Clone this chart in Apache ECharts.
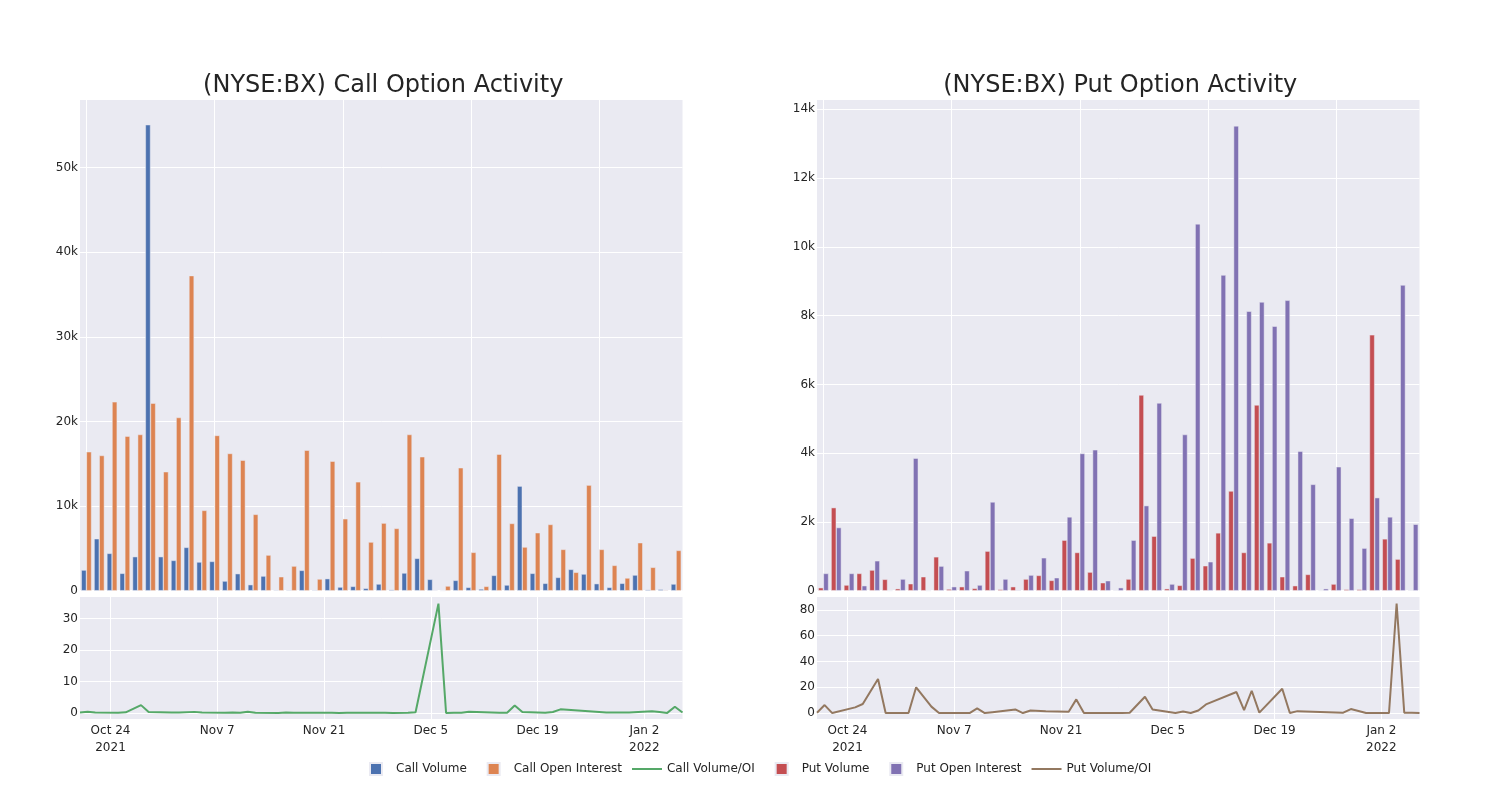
<!DOCTYPE html>
<html><head><meta charset="utf-8">
<script src="https://cdn.jsdelivr.net/npm/echarts@6/dist/echarts.min.js"></script>
<style>html,body{margin:0;background:#fff}#c{width:1500px;height:800px}</style>
</head><body><div id="c"></div>
<script>
const dates = ['2021-10-20','2021-10-21','2021-10-22','2021-10-25','2021-10-26','2021-10-28','2021-10-29','2021-11-01','2021-11-02','2021-11-04','2021-11-05','2021-11-08','2021-11-09','2021-11-10','2021-11-11','2021-11-12','2021-11-15','2021-11-16','2021-11-17','2021-11-19','2021-11-22','2021-11-23','2021-11-24','2021-11-29','2021-11-30','2021-12-02','2021-12-03','2021-12-06','2021-12-07','2021-12-08','2021-12-09','2021-12-10','2021-12-14','2021-12-15','2021-12-16','2021-12-17','2021-12-20','2021-12-21','2021-12-22','2021-12-28','2021-12-29','2021-12-31','2022-01-03','2022-01-04','2022-01-05','2022-01-06','2022-01-07'];
const callVolume = [2440,6140,4410,2050,4020,55080,4020,3580,5120,3390,3460,1140,2010,710,1730,80,80,2400,80,1420,430,510,280,790,120,2090,3820,1340,0,1220,390,200,1810,670,12360,2050,870,1570,2520,1970,830,390,870,1850,120,160,790];
const callOpenInterest = [16420,15980,22320,18270,18460,22170,14060,20470,37240,9490,18350,16220,15430,9020,4210,1650,2910,16610,1380,15310,8500,12870,5750,7990,7360,18460,15830,40,550,14530,4530,510,16140,7950,5160,6850,7830,4880,2170,12480,4880,2990,1500,5670,2760,80,4760];
const callVolOI = [0.2,0.4,0.2,0.11,0.22,2.5,0.29,0.17,0.14,0.36,0.19,0.07,0.13,0.08,0.41,0.05,0.03,0.14,0.06,0.09,0.05,0.04,0.05,0.1,0.02,0.11,0.24,34.7,0,0.08,0.09,0.39,0.11,0.08,2.4,0.3,0.11,0.32,1.16,0.16,0.17,0.13,0.58,0.33,0.04,2.0,0.17];
const putVolume = [87,2415,164,502,600,330,58,203,406,985,48,116,68,1150,39,116,338,444,300,1469,1111,541,232,10,338,5691,1585,58,155,947,725,1681,2899,1111,5401,1391,406,145,473,5,193,39,39,7440,1507,918,10];
const putOpenInterest = [502,1836,502,145,870,0,338,3855,0,715,116,580,164,2580,338,20,454,957,377,2145,3990,4097,290,87,1469,2473,5459,193,4541,10667,841,9179,13517,8126,8396,7691,8444,4058,3092,58,3604,2106,1237,2705,2145,8889,1932];
const putVolOI = [0.3,6.2,0,4.4,7,26.4,0,0,20,5,0,0,0,3.6,0,0.7,2.8,0,2,1.5,1,10.6,0,0.1,0.2,12.7,2.8,0,1.2,0,2,6.7,16.3,2.3,17.3,0.3,18.9,0,1.5,0.3,3.1,0,0,85,0.3,0.2,0];

const dateTicks = ['2021-10-24','2021-11-07','2021-11-21','2021-12-05','2021-12-19','2022-01-02'];
const dateTickLabels = ['Oct 24\n2021','Nov 7','Nov 21','Dec 5','Dec 19','Jan 2\n2022'];
const callBarTicks = [0,10000,20000,30000,40000,50000];
const putBarTicks = [0,2000,4000,6000,8000,10000,12000,14000];
const callRatioTicks = [0,10,20,30];
const putRatioTicks = [0,20,40,60,80];

const C = {blue:'#4C72B0', orange:'#DD8452', green:'#55A868', red:'#C44E52', purple:'#8172B3', brown:'#937860', bg:'#EAEAF2', text:'#242424'};
const FONT = '"DejaVu Sans", sans-serif';
const ts = s => { const p = s.split('-').map(Number); return Date.UTC(p[0], p[1]-1, p[2]); };
const tickTs = dateTicks.map(ts);
const kfmt = v => v === 0 ? '0' : (v/1000) + 'k';

const L = [80, 817], W = 602.5;
const grids = [
  {left:L[0], top:100, width:W, height:490.7},
  {left:L[0], top:597, width:W, height:122},
  {left:L[1], top:100, width:W, height:490.7},
  {left:L[1], top:597, width:W, height:122}
].map(g => Object.assign(g, {show:true, backgroundColor:C.bg, borderWidth:0, containLabel:false}));

const white = {show:true, lineStyle:{color:'#fff', width:1}};
function catAxis(gi){
  return {type:'category', gridIndex:gi, data:dates, boundaryGap:true,
    axisLabel:{show:false}, axisTick:{show:false, alignWithLabel:true}, axisLine:{show:false},
    splitLine:{show:true, alignWithLabel:true, interval:(i)=> i % 10 === 0, lineStyle:{color:'#fff', width:1}}};
}
function dateAxis(gi){
  return {type:'value', gridIndex:gi, min:ts(dates[0]), max:ts(dates[dates.length-1]), scale:true,
    axisLine:{show:false}, axisTick:{show:false, customValues:tickTs},
    axisLabel:{customValues:tickTs, color:C.text, fontSize:12, fontFamily:FONT, lineHeight:17, margin:3,
      formatter:(v)=>{const i = tickTs.indexOf(v); return i >= 0 ? dateTickLabels[i] : '';}},
    splitLine:white};
}
function valAxis(gi, min, max, ticks, fmt){
  return {type:'value', gridIndex:gi, min:min, max:max,
    axisLine:{show:false}, axisTick:{show:false, customValues:ticks},
    axisLabel:{customValues:ticks, color:C.text, fontSize:12, fontFamily:FONT, margin:2, formatter:fmt},
    splitLine:white};
}
function bar(name, data, color, xi, yi){
  return {name, type:'bar', xAxisIndex:xi, yAxisIndex:yi, data, barGap:'0%', barCategoryGap:'20%',
    itemStyle:{color, borderColor:C.bg, borderWidth:0.5}};
}
function line(name, vals, color, xi, yi){
  return {name, type:'line', xAxisIndex:xi, yAxisIndex:yi, showSymbol:false, symbol:'none',
    data: dates.map((d,i)=>[ts(d), vals[i]]), lineStyle:{color, width:2}, itemStyle:{color}};
}

const sq = 'path://M0,0L1,0L1,1L0,1Z';
const ln = 'path://M0,0L15,0L15,1L0,1Z';
const padBeforeSquare = ['Call Volume','Call Volume/OI','Put Volume'];

const option = {
  animation:false,
  backgroundColor:'#fff',
  textStyle:{fontFamily:FONT},
  title:[
    {text:'(NYSE:BX) Call Option Activity', left:L[0]+W/2-3, textAlign:'center', top:69, textStyle:{fontSize:24, fontWeight:'normal', color:C.text, fontFamily:FONT}},
    {text:'(NYSE:BX) Put Option Activity', left:L[1]+W/2-3, textAlign:'center', top:69, textStyle:{fontSize:24, fontWeight:'normal', color:C.text, fontFamily:FONT}}
  ],
  legend:{top:757, left:364, itemWidth:30, itemHeight:12, itemGap:10,
    textStyle:{color:C.text, fontSize:12, fontFamily:FONT},
    formatter:(name)=> padBeforeSquare.indexOf(name) >= 0 ? name + '\u2002 ' : name,
    data:[
      {name:'Call Volume', icon:sq}, {name:'Call Open Interest', icon:sq}, {name:'Call Volume/OI', icon:ln},
      {name:'Put Volume', icon:sq}, {name:'Put Open Interest', icon:sq}, {name:'Put Volume/OI', icon:ln}
    ]},
  grid:grids,
  xAxis:[catAxis(0), dateAxis(1), catAxis(2), dateAxis(3)],
  yAxis:[
    valAxis(0, 0, 58000, callBarTicks, kfmt),
    valAxis(1, -1.9, 36.8, callRatioTicks, v=>String(v)),
    valAxis(2, 0, 14270, putBarTicks, kfmt),
    valAxis(3, -4.6, 90, putRatioTicks, v=>String(v))
  ],
  series:[
    bar('Call Volume', callVolume, C.blue, 0, 0),
    bar('Call Open Interest', callOpenInterest, C.orange, 0, 0),
    line('Call Volume/OI', callVolOI, C.green, 1, 1),
    bar('Put Volume', putVolume, C.red, 2, 2),
    bar('Put Open Interest', putOpenInterest, C.purple, 2, 2),
    line('Put Volume/OI', putVolOI, C.brown, 3, 3)
  ]
};
const chart = echarts.init(document.getElementById('c'), null, {renderer:'canvas'});
chart.setOption(option);
</script></body></html>
